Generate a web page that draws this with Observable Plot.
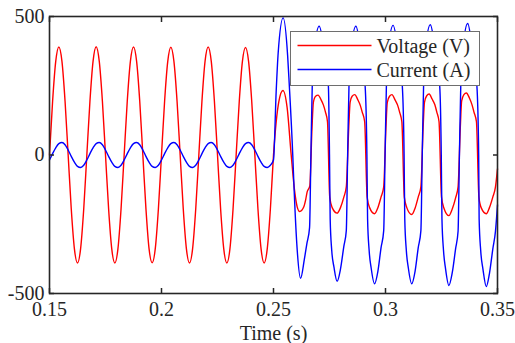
<!DOCTYPE html>
<html><head><meta charset="utf-8">
<script src="https://cdn.jsdelivr.net/npm/d3@7"></script>
<script src="https://cdn.jsdelivr.net/npm/@observablehq/plot@0.6"></script>
<style>
html,body{margin:0;padding:0;background:#fff;}
#wrap{position:relative;width:515px;height:343px;}
#legend{position:absolute;left:290px;top:31px;width:190px;height:55px;box-sizing:border-box;border:1.5px solid #6e6e6e;background:#fff;font-family:"Liberation Serif",serif;font-size:20px;color:#262626;}
#legend svg{position:absolute;left:0;top:0;}
.lab{position:absolute;left:85.5px;line-height:24px;white-space:nowrap;}
</style></head><body><div id="wrap"></div>
<script>
// Pre-fault samples (every 1/12 cycle)
const preTime = [0.15000,0.15139,0.15278,0.15417,0.15556,0.15694,0.15833,0.15972,0.16111,0.16250,0.16389,0.16528,
0.16667,0.16806,0.16944,0.17083,0.17222,0.17361,0.17500,0.17639,0.17778,0.17917,0.18056,0.18194,
0.18333,0.18472,0.18611,0.18750,0.18889,0.19028,0.19167,0.19306,0.19444,0.19583,0.19722,0.19861,
0.20000,0.20139,0.20278,0.20417,0.20556,0.20694,0.20833,0.20972,0.21111,0.21250,0.21389,0.21528,
0.21667,0.21806,0.21944,0.22083,0.22222,0.22361,0.22500,0.22639,0.22778,0.22917,0.23056,0.23194,
0.23333,0.23472,0.23611,0.23750,0.23889,0.24028,0.24167,0.24306,0.24444,0.24583,0.24722,0.24861,
0.25000];
const preVoltage = [0,195,338,390,338,195,0,-195,-338,-390,-338,-195,
0,195,338,391,338,195,0,-195,-338,-390,-338,-195,
0,195,338,390,338,195,0,-195,-338,-389,-338,-195,
0,195,337,389,337,195,0,-195,-338,-390,-338,-195,
0,195,338,390,338,195,0,-195,-338,-390,-338,-195,
0,194,337,388,337,194,0,-195,-338,-390,-338,-195,
0];
const preCurrent = [-18,5,26,41,45,37,18,-5,-26,-41,-45,-37,
-18,5,26,41,45,37,18,-5,-26,-41,-45,-37,
-18,5,26,41,45,37,18,-5,-26,-41,-45,-37,
-18,5,26,41,45,37,18,-5,-26,-41,-45,-37,
-18,5,26,41,45,37,18,-5,-26,-41,-45,-37,
-18,5,26,41,45,37,18,-5,-26,-41,-45,-37,
-18];
// Post-fault samples
const postVoltageTime = [0.2524,0.2542,0.2561,0.2579,0.2594,0.2606,0.2617,0.2635,0.2643,0.2650,
0.2662,0.2672,0.2678,0.2688,0.2699,0.2712,0.2723,0.2732,
0.2741,0.2751,0.2762,0.2784,0.2799,0.2814,0.2825,0.2836,0.2842,0.2851,0.2863,0.2876,0.2887,0.2896,
0.2907,0.2918,0.2929,0.2951,0.2966,0.2980,0.2992,0.3002,0.3008,0.3018,0.3029,0.3042,0.3054,0.3063,
0.3073,0.3084,0.3095,0.3117,0.3132,0.3146,0.3158,0.3168,0.3174,0.3184,0.3195,0.3208,0.3220,0.3229,
0.3239,0.3250,0.3261,0.3283,0.3298,0.3313,0.3324,0.3334,0.3340,0.3350,0.3361,0.3375,0.3386,0.3395,
0.3406,0.3417,0.3427,0.3450,0.3464,0.3479,0.3491,0.3500];
const postVoltage = [194,233,170,0,-128,-188,-204,-188,-164,-134,
-112,100,190,212,216,200,180,155,
120,-152,-190,-210,-190,-152,-115,100,190,212,218,200,180,155,
120,-152,-190,-212,-190,-152,-115,100,190,212,218,200,180,155,
120,-152,-190,-215,-192,-152,-115,100,190,214,220,202,182,155,
120,-152,-192,-219,-195,-155,-115,100,195,218,224,205,182,155,
120,-152,-190,-212,-190,-152,-115,-50];
const postCurrentTime = [0.2512,0.2521,0.2543,0.2563,0.2570,0.2586,0.2591,0.2606,0.2621,0.2638,0.2649,0.2661,
0.2667,0.2673,0.2683,0.2704,0.2725,0.2745,
0.2750,0.2753,0.2760,0.2770,0.2784,0.2799,0.2814,0.2825,0.2831,0.2837,0.2847,0.2868,0.2888,0.2909,
0.2917,0.2920,0.2927,0.2936,0.2951,0.2966,0.2980,0.2992,0.2998,0.3004,0.3013,0.3034,0.3055,0.3075,
0.3083,0.3086,0.3093,0.3102,0.3117,0.3132,0.3146,0.3158,0.3164,0.3170,0.3179,0.3200,0.3221,0.3242,
0.3249,0.3252,0.3259,0.3268,0.3283,0.3298,0.3313,0.3324,0.3330,0.3336,0.3346,0.3367,0.3387,0.3408,
0.3416,0.3418,0.3425,0.3435,0.3450,0.3464,0.3479,0.3491,0.3500];
const postCurrent = [230,370,495,360,260,0,-104,-345,-445,-375,-320,-262,
0,250,385,465,385,250,
0,-230,-345,-405,-456,-412,-330,-273,0,250,385,465,385,250,
0,-230,-345,-408,-465,-420,-335,-273,0,250,385,468,385,250,
0,-230,-345,-408,-465,-420,-335,-273,0,250,385,470,385,250,
0,-230,-345,-410,-471,-425,-338,-275,0,250,385,475,385,250,
0,-230,-345,-412,-475,-428,-340,-275,-180];

const xTicks = [0.15, 0.2, 0.25, 0.3, 0.35];
const xTickLabels = ["0.15", "0.2", "0.25", "0.3", "0.35"];
const yTicks = [-500, 0, 500];
const yTickLabels = ["-500", "0", "500"];
const xLabel = "Time (s)";
const seriesNames = ["Voltage (V)", "Current (A)"];
const seriesColors = ["#ff0000", "#0000ff"];

const voltage = preTime.map((t, i) => ({t, v: preVoltage[i]}))
  .concat(postVoltageTime.map((t, i) => ({t, v: postVoltage[i]})));
const current = preTime.map((t, i) => ({t, v: preCurrent[i]}))
  .concat(postCurrentTime.map((t, i) => ({t, v: postCurrent[i]})));

const ink = "#262626";
const chart = Plot.plot({
  width: 515, height: 343,
  marginLeft: 49, marginRight: 18, marginTop: 16, marginBottom: 50,
  style: {fontFamily: "Liberation Serif", fontSize: "20px", color: ink, background: "#fff"},
  x: {domain: [0.15, 0.35]},
  y: {domain: [-500, 500]},
  marks: [
    Plot.line(voltage, {x: "t", y: "v", stroke: seriesColors[0], strokeWidth: 1.4, curve: "monotone-x"}),
    Plot.line(current, {x: "t", y: "v", stroke: seriesColors[1], strokeWidth: 1.4, curve: "monotone-x"}),
    Plot.frame({stroke: ink, strokeWidth: 1.6}),
    Plot.axisX({ticks: xTicks, anchor: "bottom", tickSize: 5, dy: -5, fill: "none", stroke: ink, strokeWidth: 1.5, label: null}),
    Plot.axisX({ticks: xTicks, anchor: "top", tickSize: 5, dy: 5, fill: "none", stroke: ink, strokeWidth: 1.5, label: null}),
    Plot.axisY({ticks: yTicks, anchor: "left", tickSize: 5, dx: 5, fill: "none", stroke: ink, strokeWidth: 1.5, label: null}),
    Plot.axisY({ticks: yTicks, anchor: "right", tickSize: 5, dx: -5, fill: "none", stroke: ink, strokeWidth: 1.5, label: null}),
    Plot.axisX({ticks: xTicks, anchor: "bottom", tickSize: 0, tickPadding: 8.5, stroke: "none", fill: ink, label: null,
      fontFamily: "Liberation Serif", fontSize: 20, tickFormat: d => xTickLabels[xTicks.indexOf(d)]}),
    Plot.axisY({ticks: yTicks, anchor: "left", tickSize: 0, tickPadding: 5, stroke: "none", fill: ink, label: null,
      fontFamily: "Liberation Serif", fontSize: 20, tickFormat: d => yTickLabels[yTicks.indexOf(d)]}),
    Plot.text([xLabel], {frameAnchor: "bottom", dy: 39.6, text: d => d, lineAnchor: "middle", fill: ink,
      fontFamily: "Liberation Serif", fontSize: 20})
  ]
});
const wrap = document.getElementById("wrap");
wrap.appendChild(chart);

// Legend box drawn over the plot area
const legend = document.createElement("div");
legend.id = "legend";
const ns = "http://www.w3.org/2000/svg";
const sw = document.createElementNS(ns, "svg");
sw.setAttribute("width", "187");
sw.setAttribute("height", "52");
seriesNames.forEach((name, i) => {
  const ln = document.createElementNS(ns, "line");
  ln.setAttribute("x1", "6.5");
  ln.setAttribute("x2", "80.5");
  ln.setAttribute("y1", String(13.5 + i * 24));
  ln.setAttribute("y2", String(13.5 + i * 24));
  ln.setAttribute("stroke", seriesColors[i]);
  ln.setAttribute("stroke-width", "1.4");
  sw.appendChild(ln);
  const lab = document.createElement("div");
  lab.className = "lab";
  lab.style.top = (1.5 + i * 24) + "px";
  lab.textContent = name;
  legend.appendChild(lab);
});
legend.appendChild(sw);
wrap.appendChild(legend);
</script></body></html>
